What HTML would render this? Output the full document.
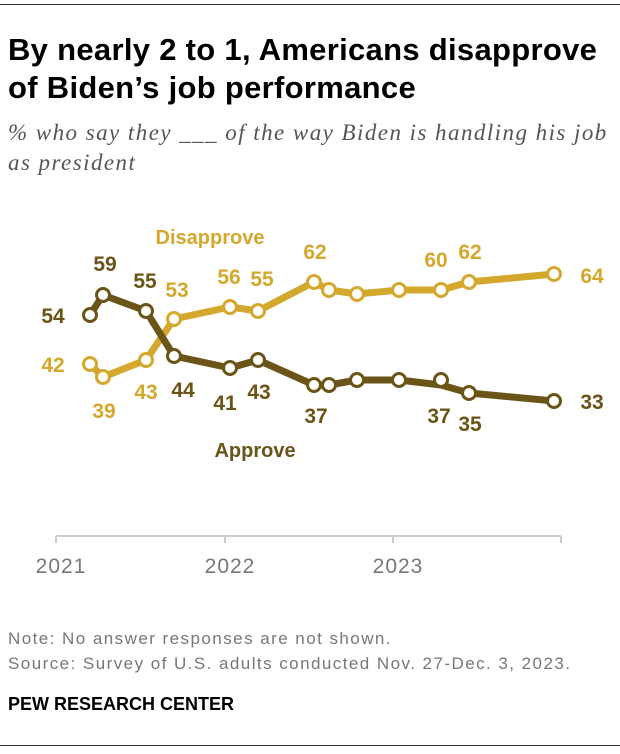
<!DOCTYPE html>
<html><head><meta charset="utf-8"><style>
body{margin:0;background:#fff;width:620px;height:754px;position:relative;font-family:"Liberation Sans",sans-serif;overflow:hidden}
.t{position:absolute;left:8px;top:31px;font-size:31px;font-weight:bold;line-height:38px;color:#000;letter-spacing:0.3px;white-space:nowrap}
.s{position:absolute;left:8px;top:118px;font-family:"Liberation Serif",serif;font-style:italic;font-size:23px;line-height:30px;color:#555;letter-spacing:1.45px;white-space:nowrap}
.n{position:absolute;left:8px;font-size:17px;color:#777;letter-spacing:1.45px;white-space:nowrap}
.p{position:absolute;left:8px;top:694px;font-size:18px;font-weight:bold;color:#000;white-space:nowrap}
.line{position:absolute;left:0;width:620px;height:1px;background:#333}
</style></head><body>
<div class="line" style="top:4px"></div>
<div class="t">By nearly 2 to 1, Americans disapprove<br>of Biden’s job performance</div>
<div class="s">% who say they ___ of the way Biden is handling his job<br>as president</div>
<svg width="620" height="754" style="position:absolute;left:0;top:0" font-family="Liberation Sans, sans-serif" font-weight="bold" font-size="21">
<g stroke="#ccc" stroke-width="2" fill="none">
<line x1="56" y1="536" x2="561" y2="536"/>
<line x1="56" y1="536" x2="56" y2="543"/><line x1="225" y1="536" x2="225" y2="543"/><line x1="393" y1="536" x2="393" y2="543"/><line x1="561" y1="536" x2="561" y2="543"/>
</g>
<g fill="#777" font-weight="normal" font-size="21" letter-spacing="1" text-anchor="middle">
<text x="61" y="573">2021</text><text x="230" y="573">2022</text><text x="398" y="573">2023</text>
</g>
<polyline fill="none" stroke="#d4a82d" stroke-width="7" stroke-linejoin="round" points="90,364 103,377 146,360 174,319 230,307 258,311 314,282 329,290 357,294 399,290 441,290 469,282 554,274"/>
<polyline fill="none" stroke="#6b5417" stroke-width="7" stroke-linejoin="round" points="90,315 103,295 146,311 174,356 230,368 258,360 314,385 329,385 357,380 399,380 441,385 469,393 554,401"/>
<g fill="#fff" stroke="#d4a82d" stroke-width="3">
<circle cx="90" cy="364" r="6.5"/><circle cx="103" cy="377" r="6.5"/><circle cx="146" cy="360" r="6.5"/><circle cx="174" cy="319" r="6.5"/><circle cx="230" cy="307" r="6.5"/><circle cx="258" cy="311" r="6.5"/><circle cx="314" cy="282" r="6.5"/><circle cx="329" cy="290" r="6.5"/><circle cx="357" cy="294" r="6.5"/><circle cx="399" cy="290" r="6.5"/><circle cx="441" cy="290" r="6.5"/><circle cx="469" cy="282" r="6.5"/><circle cx="554" cy="274" r="6.5"/>
</g>
<g fill="#fff" stroke="#6b5417" stroke-width="3">
<circle cx="90" cy="315" r="6.5"/><circle cx="103" cy="295" r="6.5"/><circle cx="146" cy="311" r="6.5"/><circle cx="174" cy="356" r="6.5"/><circle cx="230" cy="368" r="6.5"/><circle cx="258" cy="360" r="6.5"/><circle cx="314" cy="385" r="6.5"/><circle cx="329" cy="385" r="6.5"/><circle cx="357" cy="380" r="6.5"/><circle cx="399" cy="380" r="6.5"/><circle cx="441" cy="380" r="6.5"/><circle cx="469" cy="393" r="6.5"/><circle cx="554" cy="401" r="6.5"/>
</g>
<g fill="#d4a82d" text-anchor="middle">
<text x="210" y="244" font-size="20">Disapprove</text>
<text x="53" y="372">42</text><text x="104" y="418">39</text><text x="146" y="399">43</text><text x="177" y="297">53</text><text x="229" y="284">56</text><text x="262" y="286">55</text><text x="315" y="259">62</text><text x="436" y="267">60</text><text x="470" y="259">62</text><text x="592" y="283">64</text>
</g>
<g fill="#6b5417" text-anchor="middle">
<text x="255" y="457" font-size="20">Approve</text>
<text x="53" y="323">54</text><text x="105" y="271">59</text><text x="145" y="288">55</text><text x="183" y="397">44</text><text x="225" y="410">41</text><text x="259" y="399">43</text><text x="316" y="423">37</text><text x="439" y="423">37</text><text x="470" y="431">35</text><text x="592" y="409">33</text>
</g>
</svg>
<div class="n" style="top:629px">Note: No answer responses are not shown.</div>
<div class="n" style="top:654px">Source: Survey of U.S. adults conducted Nov. 27-Dec. 3, 2023.</div>
<div class="p">PEW RESEARCH CENTER</div>
<div class="line" style="top:745px"></div>
</body></html>
